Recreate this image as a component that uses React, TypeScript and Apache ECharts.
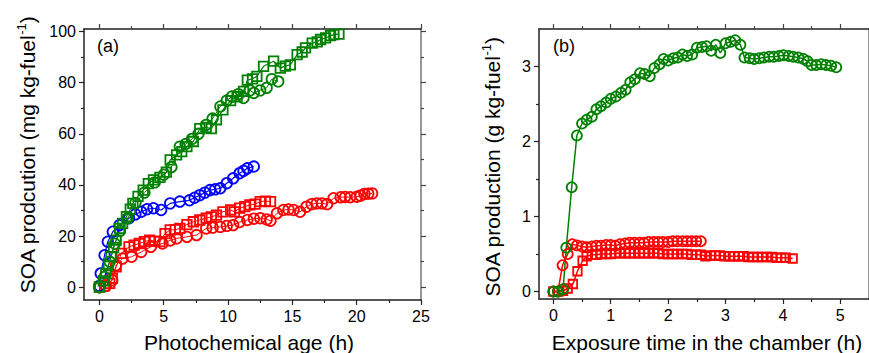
import React, { useEffect, useRef } from 'react';
import * as echarts from 'echarts';

// ---------- Panel (a): SOA production vs photochemical age ----------
const aGreenSquares: [number, number][] = [
  [0, 0], [0.3, 2.5], [0.5, 5.4], [0.7, 8.5], [0.9, 12], [1.1, 15.5], [1.3, 18.4], [1.56, 23],
  [1.8, 25], [2.1, 27.6], [2.4, 30.5], [2.6, 32.8], [3.0, 35.5], [3.4, 38], [3.8, 40.5], [4.2, 42],
  [4.7, 43], [5.2, 45], [5.5, 49.8], [6.0, 51.8], [6.4, 53], [6.8, 55], [7.3, 57], [7.8, 62],
  [8.3, 62.5], [8.7, 62], [9.1, 65.5], [9.6, 69.4], [10.2, 73], [10.7, 74.5], [11.2, 76.6], [11.5, 81],
  [11.9, 81.5], [12.24, 82.5], [12.76, 86.4], [13.54, 88.4], [14.06, 85.7], [14.45, 86.5], [14.84, 87],
  [15.37, 91], [15.76, 92], [16.02, 93.6], [16.54, 95.5], [16.93, 96], [17.19, 96.9], [17.58, 97.5],
  [17.97, 98.4], [18.23, 98.8], [18.62, 99],
];
const aGreenCircles: [number, number][] = [
  [0, 0], [0.4, 4], [0.8, 10], [1.2, 17], [1.6, 22], [2.2, 27], [2.8, 33], [3.5, 37], [4.3, 41],
  [5.0, 44], [5.6, 47], [6.25, 55], [6.7, 56], [7.2, 58], [7.7, 60], [8.3, 63.5], [8.8, 66],
  [9.4, 70.7], [9.9, 73], [10.3, 74.6], [10.8, 75.5], [11.2, 74], [11.7, 77], [12.0, 76],
  [12.5, 77], [13.0, 78], [13.4, 81.4], [13.9, 80.5],
];
const aBlueCircles: [number, number][] = [
  [0, 0.5], [0.1, 5.4], [0.4, 12.5], [0.65, 17.8], [1.04, 21.7], [1.56, 24.3], [2.3, 27], [2.8, 28.5],
  [3.25, 29.5], [3.7, 30.5], [4.2, 30.9], [4.8, 30.2], [5.5, 32.8], [6.25, 33.5], [7.0, 34], [7.4, 35],
  [7.8, 36], [8.2, 37], [8.6, 38], [9.0, 38.3], [9.4, 38.7], [9.9, 40.7], [10.4, 42.6], [10.9, 44.6],
  [11.2, 45.5], [11.5, 46.5], [12.0, 47.2],
];
const aRedSquares: [number, number][] = [
  [0, 0], [0.4, 0.5], [0.8, 1.5], [1.0, 3.5], [1.3, 8], [1.7, 13.2], [2.3, 15.8], [2.7, 16.5],
  [3.1, 17.1], [3.5, 17.8], [3.9, 18.4], [4.3, 18], [4.7, 17.8], [5.1, 21], [5.5, 22.4], [5.9, 22.5],
  [6.25, 23], [6.8, 24.5], [7.3, 25.6], [7.8, 26.3], [8.3, 27], [8.7, 27.5], [9.1, 28.2], [9.6, 29.5],
  [10.2, 30.2], [10.5, 29.5], [10.9, 30.9], [11.3, 31.5], [11.7, 32.2], [12.1, 32.5], [12.5, 33.5],
  [12.9, 33.7], [13.3, 33.5],
];
const aRedCircles: [number, number][] = [
  [0, 0], [0.5, 0.5], [1.0, 2.7], [1.3, 8.6], [1.8, 11.2], [2.5, 11.9], [3.25, 13.8], [4.0, 15.8],
  [4.9, 17.1], [5.5, 18.3], [6.0, 19.1], [6.8, 19.7], [7.55, 20.4], [8.3, 23], [8.8, 23.3], [9.4, 23.6],
  [9.9, 24], [10.4, 24.3], [10.9, 25.5], [11.5, 26.3], [12.0, 26.8], [12.5, 27], [13.0, 26.5],
  [13.3, 26], [13.8, 28.9], [14.3, 30.2], [14.7, 30.4], [15.1, 30.2], [15.6, 29.5], [16.1, 31.5],
  [16.5, 32.5], [16.9, 32.8], [17.3, 32.8], [17.7, 32.5], [18.2, 34.8], [18.75, 35.2], [19.1, 35.3],
  [19.5, 35.2], [20.0, 35.4], [20.3, 35.8], [20.6, 36.5], [20.9, 36.6], [21.2, 36.7],
];

// ---------- Panel (b): SOA production vs exposure time ----------
const bGreenCircles: [number, number][] = [
  [0, 0], [0.08, 0], [0.17, 0.03], [0.225, 0.585], [0.32, 1.39], [0.41, 2.08], [0.5, 2.24], [0.58, 2.29],
  [0.67, 2.33], [0.75, 2.43], [0.83, 2.47], [0.92, 2.52], [1.0, 2.57], [1.09, 2.6], [1.18, 2.65],
  [1.26, 2.69], [1.34, 2.79], [1.42, 2.83], [1.51, 2.91], [1.59, 2.9], [1.68, 2.87], [1.76, 2.98],
  [1.85, 3.03], [1.92, 3.1], [2.0, 3.08], [2.09, 3.11], [2.17, 3.12], [2.25, 3.16], [2.33, 3.14],
  [2.42, 3.16], [2.5, 3.25], [2.59, 3.26], [2.67, 3.27], [2.75, 3.21], [2.83, 3.29], [2.91, 3.18],
  [3.0, 3.31], [3.09, 3.33], [3.17, 3.35], [3.26, 3.29], [3.33, 3.12], [3.42, 3.11], [3.5, 3.1],
  [3.59, 3.11], [3.67, 3.12], [3.76, 3.13], [3.84, 3.13], [3.93, 3.14], [4.01, 3.15], [4.1, 3.14],
  [4.18, 3.13], [4.27, 3.12], [4.36, 3.1], [4.43, 3.07], [4.5, 3.02], [4.58, 3.02], [4.67, 3.03],
  [4.75, 3.02], [4.84, 3.01], [4.93, 2.99],
];
const bRedCircles: [number, number][] = [
  [0, 0], [0.08, 0], [0.16, 0.35], [0.25, 0.5], [0.33, 0.63], [0.41, 0.615], [0.5, 0.6], [0.58, 0.59],
  [0.67, 0.6], [0.75, 0.61], [0.83, 0.61], [0.92, 0.62], [1.0, 0.62], [1.08, 0.61], [1.16, 0.63],
  [1.25, 0.64], [1.33, 0.65], [1.41, 0.65], [1.5, 0.65], [1.58, 0.65], [1.66, 0.66], [1.75, 0.66],
  [1.83, 0.66], [1.91, 0.66], [2.0, 0.66], [2.08, 0.67], [2.16, 0.67], [2.25, 0.67], [2.33, 0.67],
  [2.41, 0.67], [2.49, 0.67], [2.57, 0.67],
];
const bRedSquares: [number, number][] = [
  [0, 0], [0.09, 0], [0.17, 0.01], [0.25, 0.04], [0.34, 0.1], [0.42, 0.27], [0.51, 0.41], [0.58, 0.47],
  [0.67, 0.49], [0.75, 0.49], [0.83, 0.5], [0.92, 0.5], [1.0, 0.5], [1.08, 0.51], [1.16, 0.51],
  [1.25, 0.51], [1.33, 0.51], [1.41, 0.51], [1.5, 0.51], [1.58, 0.51], [1.66, 0.51], [1.75, 0.51],
  [1.83, 0.51], [1.91, 0.5], [2.0, 0.5], [2.08, 0.5], [2.16, 0.5], [2.25, 0.5], [2.33, 0.5],
  [2.41, 0.49], [2.49, 0.49], [2.57, 0.49], [2.65, 0.47], [2.74, 0.48], [2.82, 0.48], [2.9, 0.48],
  [2.98, 0.47], [3.07, 0.47], [3.15, 0.47], [3.23, 0.47], [3.31, 0.47], [3.4, 0.46], [3.48, 0.46],
  [3.56, 0.46], [3.64, 0.46], [3.72, 0.46], [3.81, 0.46], [3.89, 0.45], [3.97, 0.45], [4.05, 0.45],
  [4.17, 0.44],
];

// ---------- Ticks ----------
const aXMajor = [0, 5, 10, 15, 20, 25];
const aXMinor = [2.5, 7.5, 12.5, 17.5, 22.5];
const aYMajor = [0, 20, 40, 60, 80, 100];
const aYMinor = [10, 30, 50, 70, 90];
const bXMajor = [0, 1, 2, 3, 4, 5];
const bXMinor = [0.5, 1.5, 2.5, 3.5, 4.5];
const bYMajor = [0, 1, 2, 3];
const bYMinor = [0.5, 1.5, 2.5];

const GREEN = '#008000';
const RED = '#ff0000';
const BLUE = '#0000ff';
const FONT = '"Liberation Sans", Arial, sans-serif';

function makeAxes(
  dim: 'x' | 'y',
  grid: number,
  min: number,
  max: number,
  major: number[],
  minor: number[],
) {
  const posA = dim === 'x' ? 'bottom' : 'left';
  const posB = dim === 'x' ? 'top' : 'right';
  const base = {
    type: 'value',
    gridIndex: grid,
    min,
    max,
    splitLine: { show: false },
    axisPointer: { show: false },
  } as any;
  const line = (c: string) => ({ show: true, onZero: false, lineStyle: { color: c, width: 1.5 } });
  return [
    {
      ...base,
      position: posA,
      axisLine: line('#222'),
      axisTick: { show: true, inside: false, length: 5, customValues: major, lineStyle: { color: '#222', width: 1.2 } },
      axisLabel: {
        show: true,
        customValues: major,
        margin: 8,
        fontSize: 16,
        fontFamily: FONT,
        color: '#000',
      },
    },
    {
      ...base,
      position: posA,
      axisLine: { show: false, onZero: false },
      axisTick: { show: true, inside: false, length: 3, customValues: minor, lineStyle: { color: '#222', width: 1.2 } },
      axisLabel: { show: false },
    },
    {
      ...base,
      position: posB,
      axisLine: line(dim === 'y' ? '#777' : '#222'),
      axisTick: { show: true, inside: false, length: 5, customValues: major, lineStyle: { color: '#444', width: 1.2 } },
      axisLabel: { show: false },
    },
    {
      ...base,
      position: posB,
      axisLine: { show: false, onZero: false },
      axisTick: { show: true, inside: false, length: 3, customValues: minor, lineStyle: { color: '#444', width: 1.2 } },
      axisLabel: { show: false },
    },
  ];
}

function mkSeries(
  data: [number, number][],
  color: string,
  symbol: string,
  size: number,
  grid: number,
  lineWidth: number,
) {
  return {
    type: 'line',
    xAxisIndex: grid * 4,
    yAxisIndex: grid * 4,
    data,
    symbol,
    symbolSize: size,
    showAllSymbol: true,
    lineStyle: { color, width: lineWidth },
    itemStyle: { color: 'rgba(255,255,255,0)', borderColor: color, borderWidth: 1.8 },
    emphasis: { disabled: true },
    z: 3,
  };
}

export default function App() {
  const ref = useRef<HTMLDivElement>(null);
  useEffect(() => {
    document.body.style.margin = '0';
    if (!ref.current) return;
    const chart = echarts.init(ref.current, undefined, { renderer: 'svg' });
    const supTitle = (main: string, tail: string) =>
      `{n|${main}}{s|-1}{n|${tail}}`;
    const rich = {
      n: { fontSize: 21, fontFamily: FONT, color: '#000', lineHeight: 24 },
      s: { fontSize: 13, fontFamily: FONT, color: '#000', verticalAlign: 'top', lineHeight: 24 },
    };
    chart.setOption({
      animation: false,
      grid: [
        { left: 84, top: 29, width: 337, height: 271 },
        { left: 539, top: 29, width: 336.4, height: 270 },
      ],
      xAxis: [
        ...makeAxes('x', 0, -1.2, 25, aXMajor, aXMinor),
        ...makeAxes('x', 1, -0.25, 5.5, bXMajor, bXMinor),
      ],
      yAxis: [
        ...makeAxes('y', 0, -5, 101, aYMajor, aYMinor),
        ...makeAxes('y', 1, -0.1, 3.5, bYMajor, bYMinor),
      ],
      series: [
        mkSeries(aRedCircles, RED, 'circle', 10.5, 0, 1),
        mkSeries(aRedSquares, RED, 'rect', 9.5, 0, 1),
        mkSeries(aBlueCircles, BLUE, 'circle', 10.5, 0, 1.2),
        mkSeries(aGreenCircles, GREEN, 'circle', 10.5, 0, 1),
        mkSeries(aGreenSquares, GREEN, 'rect', 9.5, 0, 1.2),
        mkSeries(bRedSquares, RED, 'rect', 8.5, 1, 1.5),
        mkSeries(bRedCircles, RED, 'circle', 10, 1, 1.5),
        mkSeries(bGreenCircles, GREEN, 'circle', 10, 1, 1.5),
      ],
      graphic: [
        { type: 'text', left: 97, top: 37, style: { text: '(a)', fontSize: 18, fontFamily: FONT, fill: '#000' } },
        { type: 'text', left: 553, top: 37, style: { text: '(b)', fontSize: 18, fontFamily: FONT, fill: '#000' } },
        {
          type: 'text', x: 249, y: 342,
          style: { text: 'Photochemical age (h)', fontSize: 21, fontFamily: FONT, fill: '#000', align: 'center', verticalAlign: 'middle' },
        },
        {
          type: 'text', x: 707, y: 342,
          style: { text: 'Exposure time in the chamber (h)', fontSize: 21, fontFamily: FONT, fill: '#000', align: 'center', verticalAlign: 'middle' },
        },
        {
          type: 'text', x: 27, y: 155, rotation: Math.PI / 2,
          style: { text: supTitle('SOA prodcution (mg kg-fuel', ')'), rich, align: 'center', verticalAlign: 'middle' },
        },
        {
          type: 'text', x: 492, y: 167, rotation: Math.PI / 2,
          style: { text: supTitle('SOA production (g kg-fuel', ')'), rich, align: 'center', verticalAlign: 'middle' },
        },
      ],
    });
    return () => chart.dispose();
  }, []);
  return <div ref={ref} style={{ width: 869, height: 353 }} />;
}
